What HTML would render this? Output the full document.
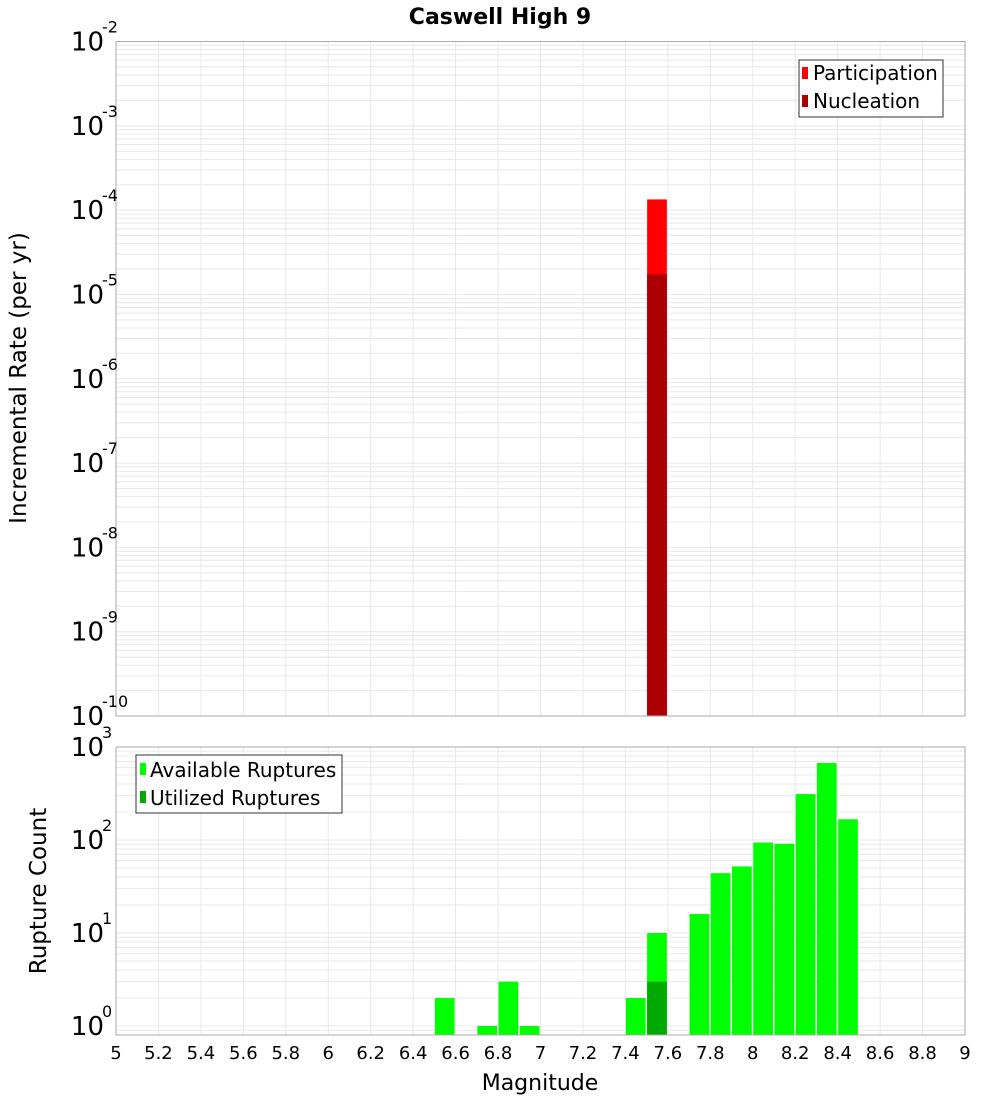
<!DOCTYPE html>
<html><head><meta charset="utf-8">
<style>
html,body{margin:0;padding:0;background:#fff;}
svg{display:block;font-family:"DejaVu Sans","Liberation Sans",sans-serif;}
</style></head>
<body>
<svg id="chart" width="1000" height="1100" xmlns="http://www.w3.org/2000/svg">
<text x="500" y="24" text-anchor="middle" font-size="22" font-weight="bold">Caswell High 9</text>
<g id="gtop"></g>
<g id="gbot"></g>
<text transform="translate(26,378) rotate(-90)" text-anchor="middle" font-size="23">Incremental Rate (per yr)</text>
<text transform="translate(46,891) rotate(-90)" text-anchor="middle" font-size="23">Rupture Count</text>
<text x="540" y="1090" text-anchor="middle" font-size="22">Magnitude</text>
<g>
<rect x="799" y="60" width="144" height="57" fill="#fff" stroke="#333" stroke-width="1"/>
<rect x="802" y="67" width="6" height="12" fill="#ff0000"/>
<text x="813" y="80" font-size="20">Participation</text>
<rect x="802" y="95" width="6" height="12" fill="#aa0000"/>
<text x="813" y="108" font-size="20">Nucleation</text>
</g>
<g>
<rect x="136" y="755" width="206" height="58" fill="#fff" stroke="#333" stroke-width="1"/>
<rect x="140" y="763" width="6" height="12" fill="#00ff00"/>
<text x="150" y="777" font-size="20">Available Ruptures</text>
<rect x="140" y="791" width="6" height="12" fill="#00aa00"/>
<text x="150" y="805" font-size="20">Utilized Ruptures</text>
</g>
</svg>
<script>
const xTicks=[5,5.2,5.4,5.6,5.8,6,6.2,6.4,6.6,6.8,7,7.2,7.4,7.6,7.8,8,8.2,8.4,8.6,8.8,9];
const topDecades=[-2,-3,-4,-5,-6,-7,-8,-9,-10];
const botDecades=[0,1,2,3];
const partMags=[7.5];
const partRates=[1.34e-4];
const nuclMags=[7.5];
const nuclRates=[1.73e-5];
const availMags=[6.5,6.7,6.8,6.9,7.4,7.5,7.7,7.8,7.9,8.0,8.1,8.2,8.3,8.4];
const availCounts=[2,1,3,1,2,10,16,44,52,94,91,312,673,167];
const usedMags=[7.5];
const usedCounts=[3];

const NS="http://www.w3.org/2000/svg";
const X0=116,X1=965;
const xs=m=>X0+(m-5)/4*(X1-X0);
const T0=41.5,T1=716;
const yTop=v=>T0+(-2-Math.log10(v))*(T1-T0)/8;
const B0=747,B1=1035;
const yBot=v=>1026-Math.log10(v)*93;
function mk(p,tag,a){const e=document.createElementNS(NS,tag);for(const k in a)e.setAttribute(k,a[k]);p.appendChild(e);return e;}
const gTop=document.getElementById('gtop'),gBot=document.getElementById('gbot');
function grid(g,y0,y1,yf,lo,hi){
  for(const t of xTicks){const l=mk(g,'line',{x1:xs(t),x2:xs(t),y1:y0,y2:y1,stroke:'#e8e8e8','stroke-width':1});
  
  }
  for(let d=lo;d<hi;d++)for(let k=1;k<10;k++){const y=yf(k*Math.pow(10,d));if(y<y0-0.5||y>y1+0.5)continue;
    const l=mk(g,'line',{x1:X0,x2:X1,y1:y,y2:y,stroke:'#e8e8e8','stroke-width':1});
    
    }
}
grid(gTop,T0,T1,yTop,-10,-2);
grid(gBot,B0,B1,yBot,-1,3);
function bars(g,mags,vals,yf,base,color,name){
  mags.forEach((m,i)=>{const y=yf(vals[i]);const r=mk(g,'rect',{x:xs(m)+0.5,y:y,width:xs(m+0.1)-xs(m)-1.5,height:base-y,fill:color});
  
  });
}
bars(gTop,partMags,partRates,yTop,T1,'#ff0000','participation-bar');
bars(gTop,nuclMags,nuclRates,yTop,T1,'#aa0000','nucleation-bar');
bars(gBot,availMags,availCounts,yBot,B1,'#00ff00','available-bar');
bars(gBot,usedMags,usedCounts,yBot,B1,'#00aa00','utilized-bar');
const f1=mk(gTop,'rect',{x:X0,y:T0,width:X1-X0,height:T1-T0,fill:'none',stroke:'#aaa','stroke-width':1});


const f2=mk(gBot,'rect',{x:X0,y:B0,width:X1-X0,height:B1-B0,fill:'none',stroke:'#aaa','stroke-width':1});


function ylab(g,d,y){const t=mk(g,'text',{x:104,y:y+9,'text-anchor':'end','font-size':26});
  
  
  t.textContent='10';
  const s=mk(g,'text',{x:102,y:y-9,'font-size':16});
  
  
  s.textContent=String(d);}
topDecades.forEach(d=>ylab(gTop,d,yTop(Math.pow(10,d))));
botDecades.forEach(d=>ylab(gBot,d,yBot(Math.pow(10,d))));
xTicks.forEach(t=>{const e=mk(gBot,'text',{x:xs(t),y:1059,'text-anchor':'middle','font-size':18});
  
  
  e.textContent=String(t);});
</script>
</body></html>
